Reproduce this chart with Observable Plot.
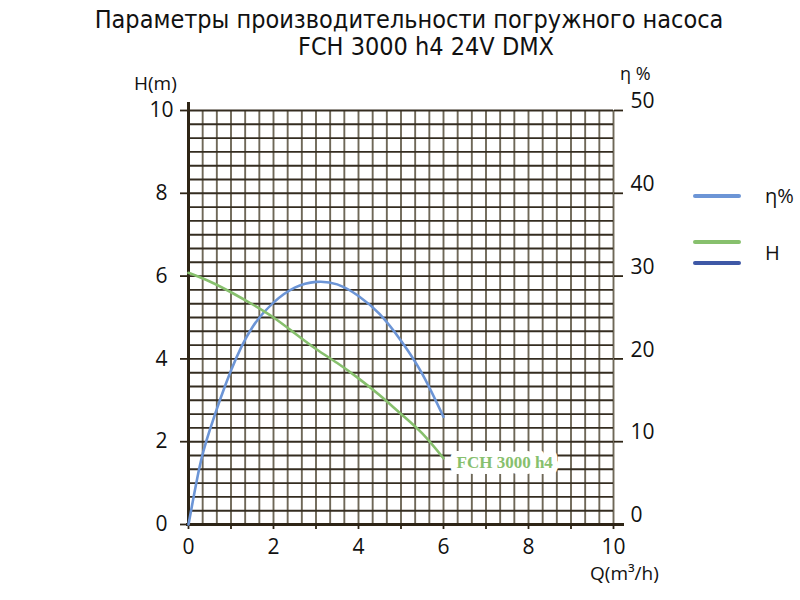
<!DOCTYPE html>
<html>
<head>
<meta charset="utf-8">
<script src="https://cdn.jsdelivr.net/npm/d3@7"></script>
<script src="https://cdn.jsdelivr.net/npm/@observablehq/plot@0.6"></script>
<style>
  html, body { margin: 0; padding: 0; background: #fff; }
  #wrap { position: relative; width: 800px; height: 600px; overflow: hidden; font-family: "Open Sans", sans-serif; color: #111; }
  #wrap svg { position: absolute; left: 0; top: 0; }
  .ov { position: absolute; white-space: nowrap; line-height: 1; }
  .title { font-family: "DejaVu Sans", sans-serif; font-stretch: condensed; font-size: 25px; transform: translateX(-50%); }
  .lg { position: absolute; height: 4px; width: 48px; border-radius: 2px; }
</style>
</head>
<body>
<div id="wrap"></div>
<script>
// ---- data ----
const titleLines = ["Параметры производительности погружного насоса", "FCH 3000 h4 24V DMX"];
const seriesNames = ["η%", "H"];
const seriesColors = ["#6c95d6", "#87c06d", "#3e58a6"];
const curveLabel = "FCH 3000 h4";

// head curve H (m) vs Q (m³/h)
const headQ = [0, 0.5, 1, 1.5, 2, 2.5, 3, 3.5, 4, 4.5, 5, 5.5, 6];
const headH = [6.08, 5.87, 5.61, 5.32, 5.0, 4.62, 4.24, 3.9, 3.53, 3.12, 2.67, 2.2, 1.6];

// efficiency curve η (%) vs Q (m³/h)
const effQ = [0, 0.25, 0.5, 1, 1.5, 2, 2.5, 3, 3.5, 4, 4.5, 5, 5.5, 6];
const effEta = [0, 6.7, 11.4, 18.6, 23.8, 26.8, 28.6, 29.3, 29.0, 27.6, 25.4, 22.2, 18.2, 13.0];

// axes
const xTicksMajor = [0, 2, 4, 6, 8, 10];
const xTicksMinor = [0, 1, 2, 3, 4, 5, 6, 7, 8, 9, 10];
const yTicks = [0, 2, 4, 6, 8, 10];
const etaPerUnit = 5; // right axis: 0..50 % over 0..10 m
const gridStep = 1 / 3;

const head = headQ.map((q, i) => ({q, h: headH[i]}));
const eff = effQ.map((q, i) => ({q, eta: effEta[i]}));
const grid = d3.range(0, 31).map(i => i * gridStep);

const axisColor = "#2e2516";
const plot = Plot.plot({
  width: 800,
  height: 600,
  marginLeft: 188,
  marginRight: 187,
  marginTop: 110,
  marginBottom: 76,
  x: {domain: [0, 10]},
  y: {domain: [0, 10]},
  style: {fontFamily: "Open Sans, sans-serif", fontSize: "21px", color: "#111", background: "transparent"},
  marks: [
    Plot.ruleX(grid, {stroke: "#6f6858", strokeWidth: 1.9}),
    Plot.ruleY(grid, {stroke: "#342c20", strokeWidth: 1.9}),
    Plot.ruleX([0], {stroke: axisColor, strokeWidth: 3, insetTop: -8, insetBottom: -2}),
    Plot.ruleY([0], {stroke: axisColor, strokeWidth: 3, insetRight: -11, insetLeft: -2}),
    Plot.axisX({ticks: xTicksMinor, tickSize: 5, tickFormat: () => "", stroke: axisColor, strokeWidth: 1.8, label: null}),
    Plot.axisX({ticks: xTicksMajor, tickSize: 0, tickPadding: 15, fontSize: 21, label: null}),
    Plot.axisY({ticks: yTicks, tickSize: 8, tickPadding: 19, textAnchor: "middle", fontSize: 21, stroke: axisColor, strokeWidth: 1.8, label: null}),
    Plot.axisY({anchor: "right", ticks: yTicks, tickSize: 9, tickFormat: () => "", stroke: axisColor, strokeWidth: 1.8, label: null}),
    Plot.axisY({anchor: "right", ticks: yTicks, tickSize: 0, tickPadding: 17, dy: -9, fontSize: 21,
      tickFormat: d => String(d * etaPerUnit), label: null}),
    Plot.line(eff, {x: "q", y: d => d.eta / etaPerUnit, curve: "natural", stroke: seriesColors[0], strokeWidth: 2.6}),
    Plot.line(head, {x: "q", y: "h", curve: "natural", stroke: seriesColors[1], strokeWidth: 2.6}),
    Plot.text([head[head.length - 1]], {x: "q", y: "h", text: () => curveLabel, textAnchor: "start", dx: 13, dy: 4,
      fill: seriesColors[1], stroke: "white", strokeWidth: 12, paintOrder: "stroke", fontWeight: "bold",
      fontFamily: "Liberation Serif, serif", fontSize: 17})
  ]
});

const wrap = document.getElementById("wrap");
wrap.appendChild(plot);

function addDiv(cls, text, css) {
  const d = document.createElement("div");
  d.className = "ov " + cls;
  d.textContent = text;
  Object.assign(d.style, css);
  wrap.appendChild(d);
  return d;
}
// title
addDiv("title", titleLines[0], {left: "409px", top: "7px"});
addDiv("title", titleLines[1], {left: "426px", top: "34px"});
// axis labels
addDiv("", "H(m)", {left: "134px", top: "74px", fontSize: "19px"});
addDiv("", "η %", {left: "620px", top: "64px", fontSize: "18px"});
addDiv("", "Q(m³/h)", {left: "590px", top: "564px", fontSize: "19px"});
// legend
const lgLines = [[seriesColors[0], 194], [seriesColors[1], 240], [seriesColors[2], 261]];
lgLines.forEach(([c, t]) => {
  const d = document.createElement("div");
  d.className = "lg";
  d.style.background = c;
  d.style.left = "693px";
  d.style.top = t + "px";
  wrap.appendChild(d);
});
addDiv("", seriesNames[0], {left: "765px", top: "186px", fontSize: "20px"});
addDiv("", seriesNames[1], {left: "765px", top: "243px", fontSize: "20px"});
</script>
</body>
</html>
